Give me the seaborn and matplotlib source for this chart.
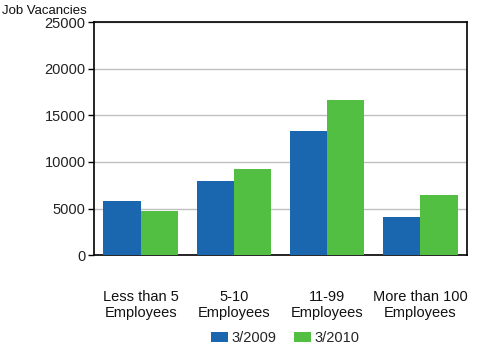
import matplotlib
matplotlib.use("Agg")
import matplotlib.pyplot as plt
import seaborn as sns
import pandas as pd

categories = ["Less than 5\nEmployees", "5-10\nEmployees", "11-99\nEmployees", "More than 100\nEmployees"]
periods = ["3/2009", "3/2010"]
vac_2009 = [5800, 7950, 13300, 4070]
vac_2010 = [4720, 9240, 16630, 6430]
y_ticks = [0, 5000, 10000, 15000, 20000, 25000]

df = pd.DataFrame({
    "size": categories * 2,
    "period": [periods[0]] * 4 + [periods[1]] * 4,
    "value": vac_2009 + vac_2010,
})

sns.set_theme(style="white")
plt.rcParams["font.family"] = ["Liberation Sans", "DejaVu Sans"]

fig = plt.figure(figsize=(5, 3.5), dpi=100)
ax = fig.add_axes([0.188, 0.271, 0.746, 0.666])

palette = {"3/2009": "#1a67b0", "3/2010": "#52be42"}
sns.barplot(data=df, x="size", y="value", hue="period", palette=palette,
            width=0.8, saturation=1, ax=ax, zorder=3, linewidth=0)

ax.set_ylim(0, 25000)
ax.set_yticks(y_ticks)
ax.set_yticklabels([str(t) for t in y_ticks], fontsize=10.5, color="#222222")
ax.yaxis.grid(True, color="#c0c0c0", linewidth=1, zorder=0)
ax.set_axisbelow(True)
ax.set_xlim(-0.5, 3.5)
ax.tick_params(axis="y", length=4, width=1, color="black", left=True, pad=2)
ax.tick_params(axis="x", length=0, pad=25, labelsize=10.5, labelcolor="#111111")
ax.set_xlabel("")
ax.set_ylabel("")
for s in ax.spines.values():
    s.set_visible(True)
    s.set_color("black")
    s.set_linewidth(1.2)

fig.text(0.004, 0.968, "Job Vacancies", fontsize=9.5, ha="left", va="center", color="#111111")

ax.legend(loc="center", bbox_to_anchor=(0.513, -0.355), ncol=2, frameon=False,
          fontsize=10.5, handlelength=1.15, handleheight=0.65, columnspacing=1.2,
          handletextpad=0.25, borderaxespad=0, borderpad=0)

fig.savefig("out.png", dpi=100)
